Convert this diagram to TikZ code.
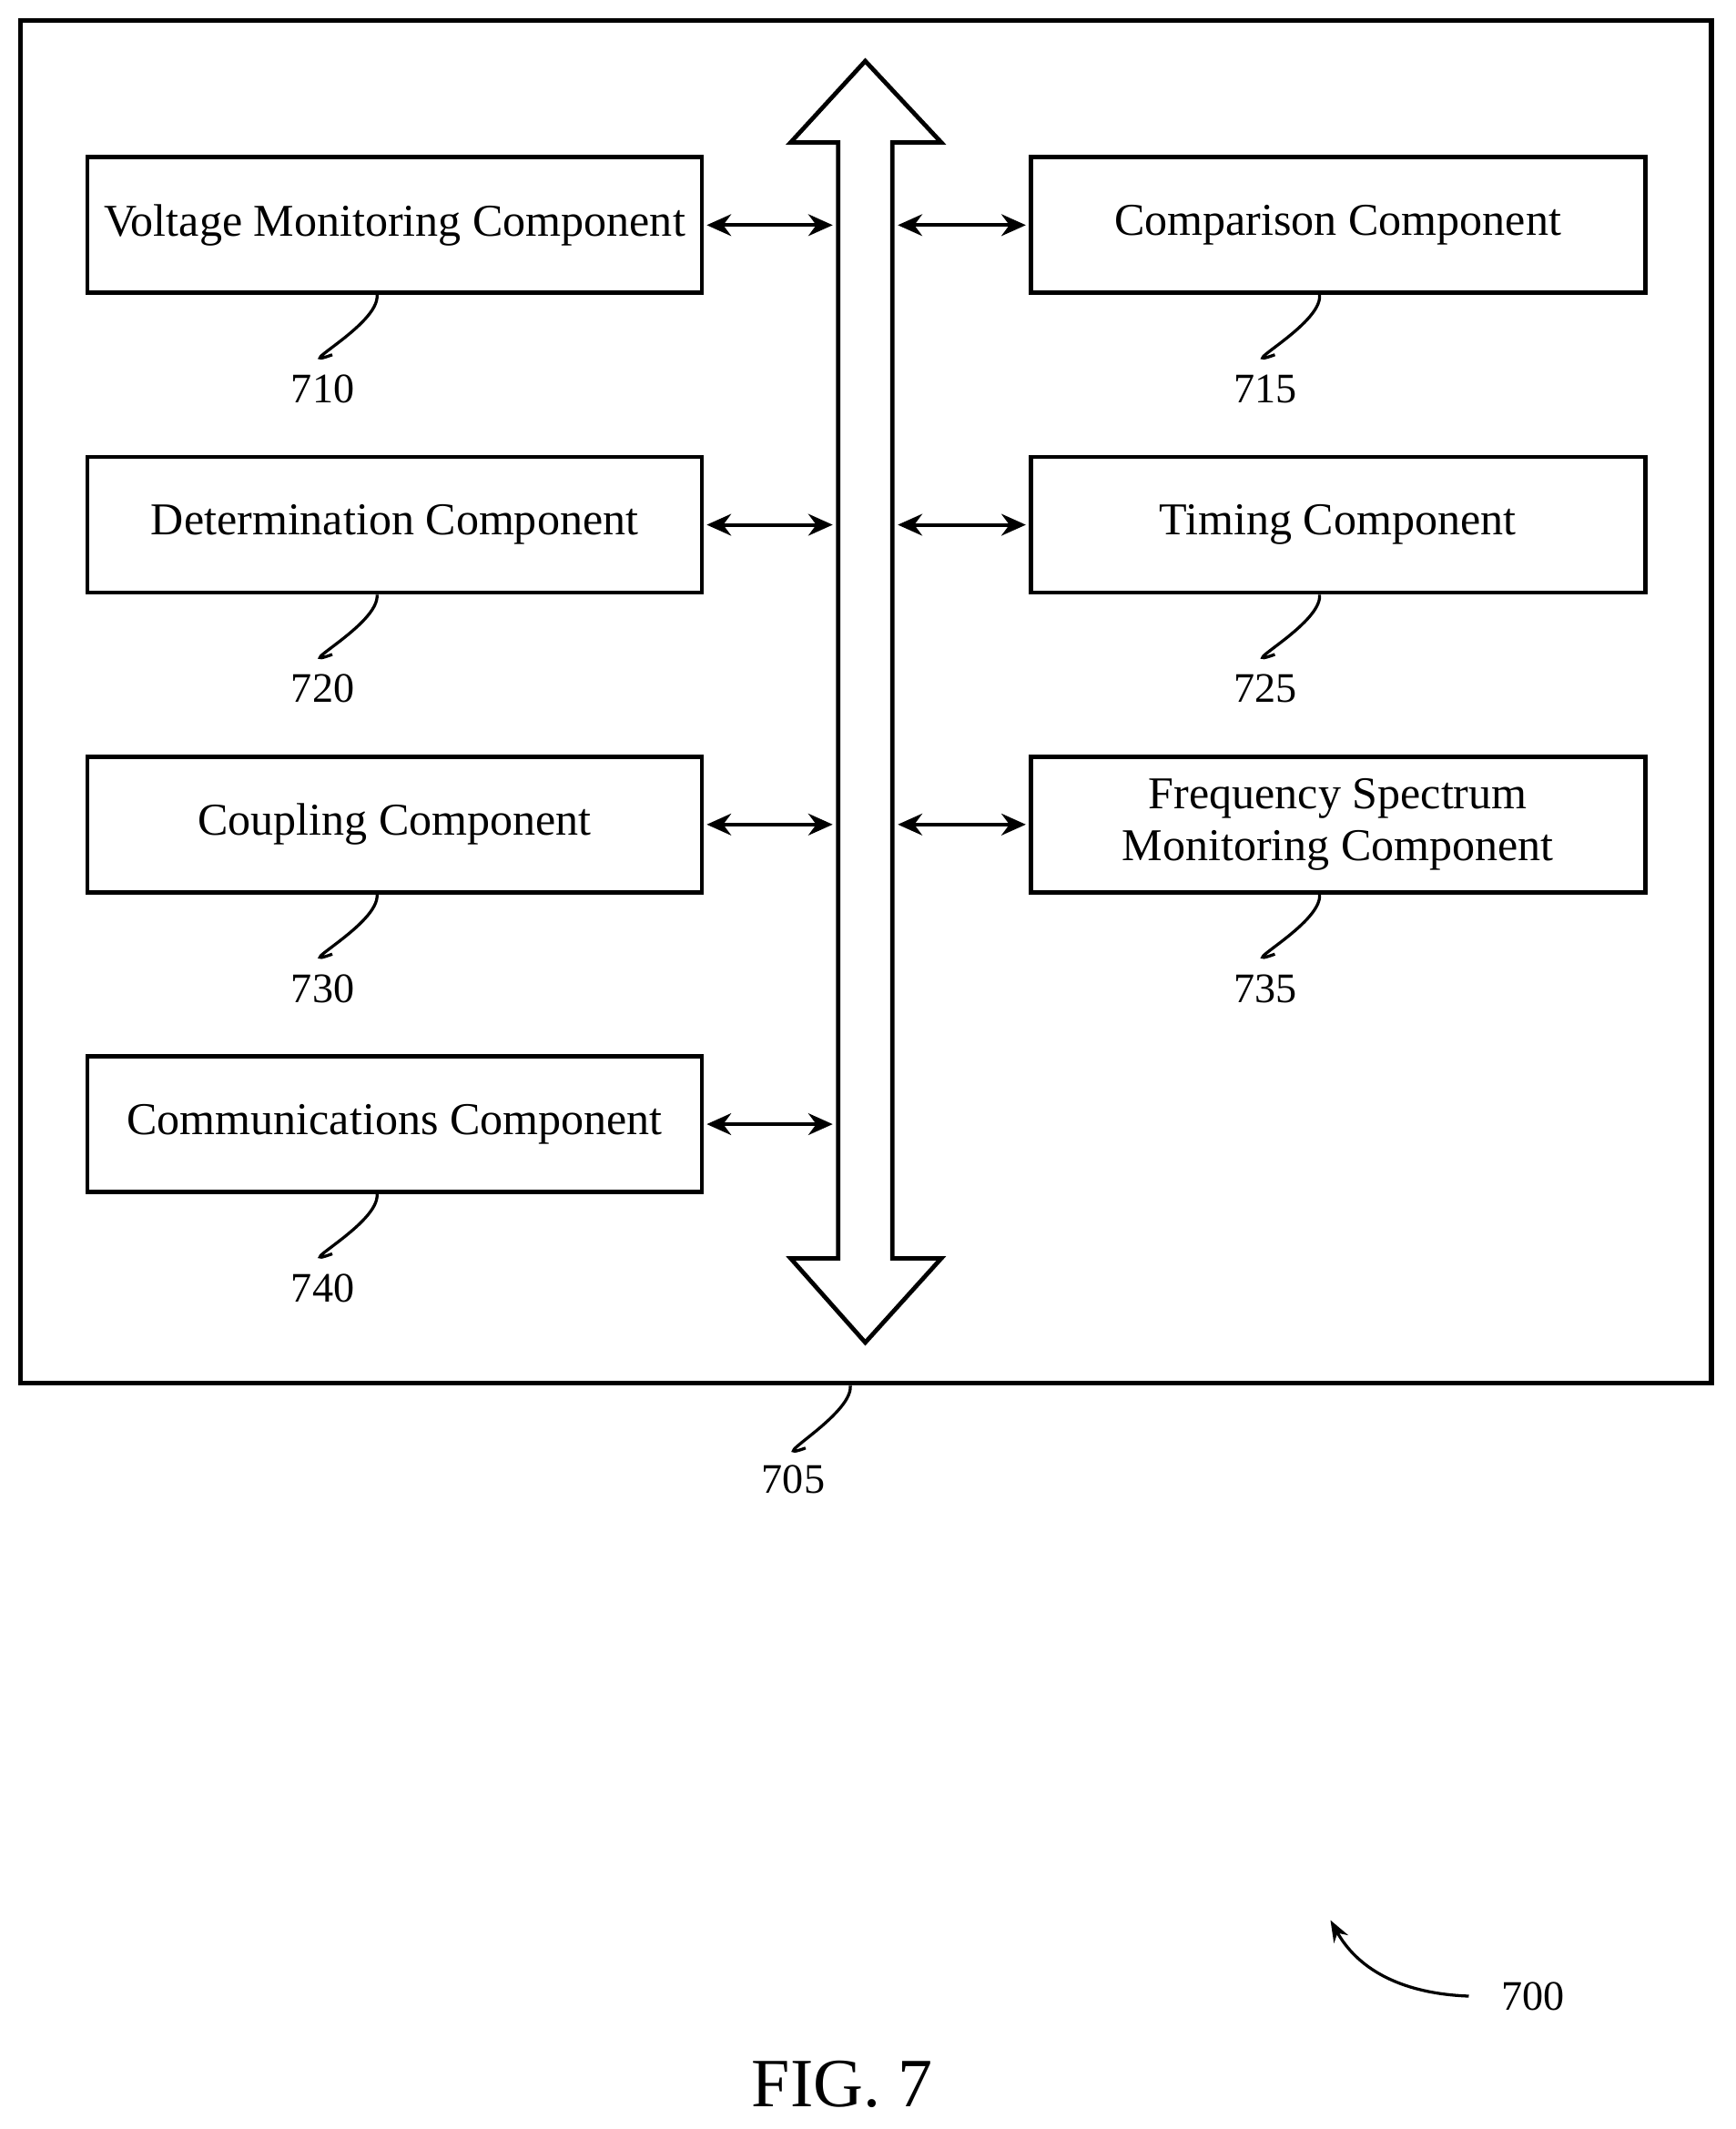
\documentclass[tikz,border=0pt]{standalone}
\usepackage{fontspec}
\setmainfont{Liberation Serif}
\usetikzlibrary{arrows.meta}
\begin{document}
\begin{tikzpicture}[x=0.5pt,y=-0.5pt,
  comp/.style={draw,line width=1.6pt,minimum width=226.5pt,minimum height=50pt,inner sep=0pt,align=center,font=\fontsize{16.8}{19}\selectfont},
  lbl/.style={font=\fontsize{15.5}{17}\selectfont},
  conn/.style={line width=1.3pt,{Stealth[length=9pt,width=8pt]}-{Stealth[length=9pt,width=8pt]}},
  sq/.style={line width=1.1pt}]
\useasboundingbox (0,0) rectangle (1280,1570);
\node[draw,line width=1.8pt,minimum width=623.5pt,minimum height=502.5pt,inner sep=0pt] (sys) at (638.5,517.5) {};
\draw[line width=1.6pt,fill=white] (618,105) -- (583,105) -- (638,45) -- (694,105) -- (658,105) -- (658,928) -- (694,928) -- (638,990) -- (583,928) -- (618,928) -- cycle;
\coordinate (busL) at (618,0);
\coordinate (busR) at (658,0);
\foreach \n/\txt/\y/\num in {a/Voltage Monitoring Component/166/710, b/Determination Component/387/720, c/Coupling Component/608/730, d/Communications Component/829/740}{
  \node[comp] (\n) at (291,\y) {\txt};
  \coordinate (\n s) at (\n.east -| busL);
  \draw[conn] ([xshift=1pt]\n.east) -- ([xshift=-2pt]\n s);
  \draw[sq] ([xshift=-6.5pt]\n.south) .. controls +(2,22) and +(-33,12) .. +(-33,44);
  \node[lbl] at (238,\y+121) {\num};
}
\foreach \n/\txt/\y/\num in {e/Comparison Component/166/715, f/Timing Component/387/725, g/{Frequency Spectrum\\Monitoring Component}/608/735}{
  \node[comp] (\n) at (986.5,\y) {\txt};
  \coordinate (\n s) at (\n.west -| busR);
  \draw[conn] ([xshift=2pt]\n s) -- ([xshift=-1pt]\n.west);
  \draw[sq] ([xshift=-6.75pt]\n.south) .. controls +(2,22) and +(-33,12) .. +(-33,44);
  \node[lbl] at (933,\y+121) {\num};
}
\draw[sq] ([xshift=-5.75pt]sys.south) .. controls +(2,22) and +(-33,12) .. +(-33,46);
\node[lbl] at (585,1091) {705};
\coordinate (p700) at (1083,1472);
\draw[line width=1.1pt,-{Stealth[length=8pt,width=6pt]}] (p700) .. controls (1030,1470) and (1000,1450) .. (981,1416);
\node[lbl,anchor=west] at (1100,1472) {700};
\node[font=\fontsize{25.5}{28}\selectfont] at (621,1537) {FIG. 7};
\end{tikzpicture}
\end{document}
